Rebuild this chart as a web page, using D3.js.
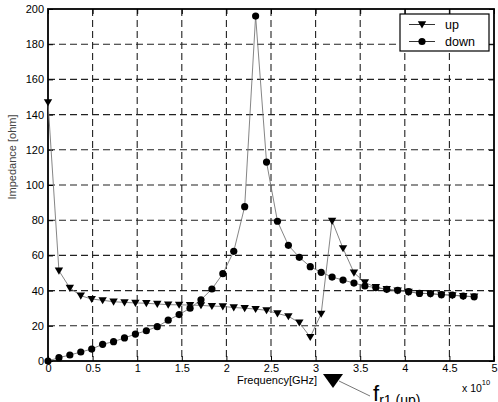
<!DOCTYPE html>
<html>
<head>
<meta charset="utf-8">
<script src="https://cdn.jsdelivr.net/npm/d3@7"></script>
<style>
  body { margin: 0; background: #fff; }
  text { font-family: "Liberation Sans", Arial, Helvetica, sans-serif; }
</style>
</head>
<body>
<div id="chart"></div>
<script>
// frequency points (axis units, x 10^10)
var freq = [0, 0.1225, 0.245, 0.3675, 0.49, 0.6125, 0.735, 0.8575, 0.98, 1.1025,
            1.225, 1.3475, 1.47, 1.5925, 1.715, 1.8375, 1.96, 2.0825, 2.205, 2.3275,
            2.45, 2.5725, 2.695, 2.8175, 2.94, 3.0625, 3.185, 3.3075, 3.43, 3.5525,
            3.675, 3.7975, 3.92, 4.0425, 4.165, 4.2875, 4.41, 4.5325, 4.655, 4.7775];

var up_vals = [147, 51.3, 41.5, 37.1, 35.2, 34.5, 33.7, 33.3, 33.0, 32.8,
               32.4, 32.0, 31.9, 31.8, 31.6, 31.2, 31.0, 30.4, 30.0, 29.5,
               28.8, 27.0, 25.4, 21.8, 13.6, 26.8, 79.6, 64.0, 50.2, 44.6,
               41.9, 40.8, 40.0, 39.2, 38.6, 38.2, 37.7, 37.3, 36.9, 36.5];

var down_vals = [0, 1.9, 3.4, 5.1, 6.8, 9.5, 11.0, 13.1, 15.3, 17.2,
                 19.5, 23.2, 26.4, 30.0, 34.8, 40.9, 49.6, 62.3, 87.7, 196,
                 113, 79.4, 65.7, 58.9, 53.6, 50.4, 47.7, 46.0, 44.3, 42.6,
                 41.7, 40.7, 40.2, 39.4, 38.4, 38.3, 37.7, 37.5, 36.9, 36.5];

var x_ticks = [0, 0.5, 1, 1.5, 2, 2.5, 3, 3.5, 4, 4.5, 5];
var y_ticks = [0, 20, 40, 60, 80, 100, 120, 140, 160, 180, 200];
var series_names = ["up", "down"];

var width = 498, height = 402;
var p_left = 48, p_right = 494, p_top = 9, p_bottom = 361;

var svg = d3.select("#chart").append("svg")
    .attr("width", width)
    .attr("height", height);

var x = d3.scaleLinear().domain([0, 5]).range([p_left, p_right]);
var y = d3.scaleLinear().domain([0, 200]).range([p_bottom, p_top]);

// grid
svg.append("g").selectAll("line")
    .data(x_ticks.slice(1, -1))
  .enter().append("line")
    .attr("x1", function(d) { return x(d); })
    .attr("x2", function(d) { return x(d); })
    .attr("y1", p_top).attr("y2", p_bottom)
    .attr("stroke", "#222").attr("stroke-width", 1.1)
    .attr("stroke-dasharray", "7,4");

svg.append("g").selectAll("line")
    .data(y_ticks.slice(1, -1))
  .enter().append("line")
    .attr("y1", function(d) { return y(d); })
    .attr("y2", function(d) { return y(d); })
    .attr("x1", p_left).attr("x2", p_right)
    .attr("stroke", "#222").attr("stroke-width", 1.1)
    .attr("stroke-dasharray", "7,4");

// axes (ticks inward, on all four sides)
var tl = 5;
var xb = svg.append("g").attr("transform", "translate(0," + p_bottom + ")")
    .call(d3.axisBottom(x).tickValues(x_ticks).tickSize(-tl).tickPadding(3)
          .tickFormat(function(d) { return d; }));
var xt = svg.append("g").attr("transform", "translate(0," + p_top + ")")
    .call(d3.axisTop(x).tickValues(x_ticks).tickSize(-tl).tickFormat(""));
var yl = svg.append("g").attr("transform", "translate(" + p_left + ",0)")
    .call(d3.axisLeft(y).tickValues(y_ticks).tickSize(-tl).tickPadding(4));
var yr = svg.append("g").attr("transform", "translate(" + p_right + ",0)")
    .call(d3.axisRight(y).tickValues(y_ticks).tickSize(-tl).tickFormat(""));

[xb, xt, yl, yr].forEach(function(g) {
  g.select(".domain").remove();
  g.selectAll("line").attr("stroke", "#000");
  g.selectAll("text").attr("font-size", "11px").attr("fill", "#000")
    .attr("font-family", "'Liberation Sans', Arial, sans-serif");
});
xb.selectAll("text").attr("dy", "0.71em");

// frame
svg.append("rect")
    .attr("x", p_left).attr("y", p_top)
    .attr("width", p_right - p_left).attr("height", p_bottom - p_top)
    .attr("fill", "none").attr("stroke", "#000").attr("stroke-width", 1.8);

// lines
var line = d3.line()
    .x(function(d) { return x(d[0]); })
    .y(function(d) { return y(d[1]); });

var up_data = freq.map(function(f, i) { return [f, up_vals[i]]; });
var down_data = freq.map(function(f, i) { return [f, down_vals[i]]; });

svg.append("path").datum(up_data)
    .attr("d", line).attr("fill", "none")
    .attr("stroke", "#777").attr("stroke-width", 0.9);
svg.append("path").datum(down_data)
    .attr("d", line).attr("fill", "none")
    .attr("stroke", "#777").attr("stroke-width", 0.9);

function tri(cx, cy, s) {
  return "M" + (cx - s) + "," + (cy - s * 0.75) +
         "L" + (cx + s) + "," + (cy - s * 0.75) +
         "L" + cx + "," + (cy + s * 0.95) + "Z";
}

svg.append("g").selectAll("circle")
    .data(down_data)
  .enter().append("circle")
    .attr("cx", function(d) { return x(d[0]); })
    .attr("cy", function(d) { return y(d[1]); })
    .attr("r", 3.6)
    .attr("fill", "#000");

svg.append("g").selectAll("path")
    .data(up_data)
  .enter().append("path")
    .attr("d", function(d) { return tri(x(d[0]), y(d[1]), 4.2); })
    .attr("fill", "#000");

// legend
var lg = svg.append("g");
lg.append("rect")
    .attr("x", 400).attr("y", 14).attr("width", 89).attr("height", 37)
    .attr("fill", "#fff").attr("stroke", "#000").attr("stroke-width", 1.2);
series_names.forEach(function(name, i) {
  var ly = 24.5 + i * 17;
  lg.append("line").attr("x1", 409).attr("x2", 435).attr("y1", ly).attr("y2", ly)
    .attr("stroke", "#333").attr("stroke-width", 1);
  if (i == 0) {
    lg.append("path").attr("d", tri(422, ly, 4.2)).attr("fill", "#000");
  } else {
    lg.append("circle").attr("cx", 422).attr("cy", ly).attr("r", 3.6).attr("fill", "#000");
  }
  lg.append("text").attr("x", 445).attr("y", ly + 4.5)
    .attr("font-size", "12.5px").attr("fill", "#000").text(name);
});

// axis labels
svg.append("text")
    .attr("transform", "translate(16,157)rotate(-90)")
    .attr("text-anchor", "middle")
    .attr("font-size", "11px").attr("fill", "#444")
    .text("Impedance [ohm]");

svg.append("text")
    .attr("x", 277).attr("y", 384)
    .attr("text-anchor", "middle")
    .attr("font-size", "11px").attr("fill", "#000")
    .text("Frequency[GHz]");

var ex = svg.append("text").attr("x", 462).attr("y", 392)
    .attr("font-size", "10.5px").attr("fill", "#000");
ex.append("tspan").text("x 10");
ex.append("tspan").attr("dy", -7).attr("font-size", "7.5px").text("10");

// annotation marker f_r1 (up)
svg.append("path")
    .attr("d", "M323,374L343,374L333,388Z")
    .attr("fill", "#000");
svg.append("line")
    .attr("x1", 339).attr("y1", 381).attr("x2", 370).attr("y2", 396)
    .attr("stroke", "#666").attr("stroke-width", 0.9);
var ann = svg.append("text").attr("x", 373).attr("y", 401)
    .attr("font-size", "22px").attr("fill", "#000");
ann.append("tspan").text("f");
ann.append("tspan").attr("dy", 4).attr("font-size", "14px").text("r1 (up)");
</script>
</body>
</html>
